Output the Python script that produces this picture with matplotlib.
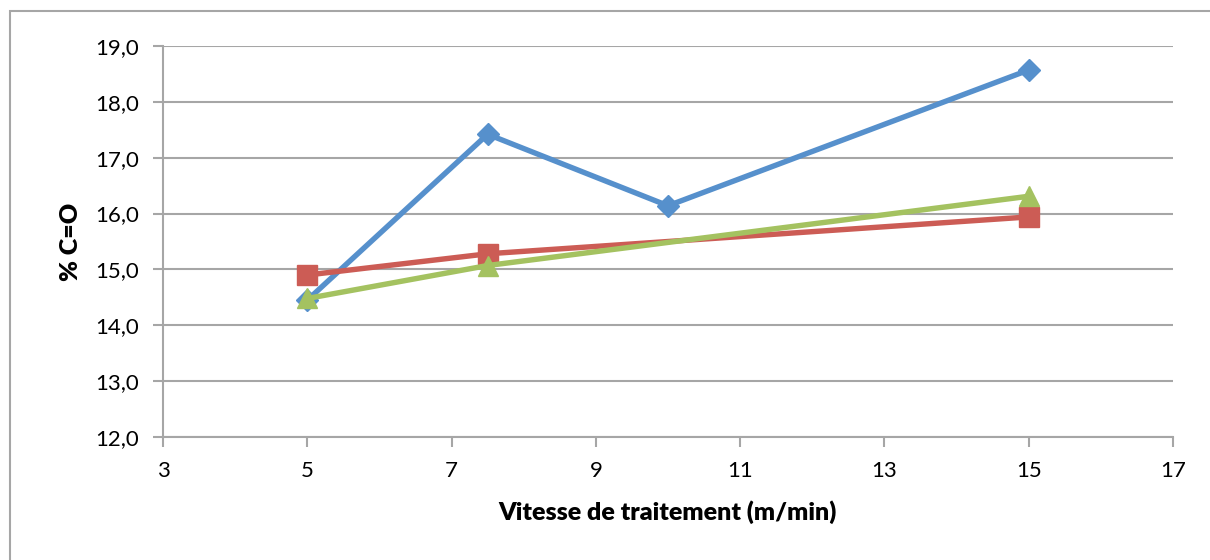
import matplotlib.pyplot as plt
from matplotlib.patches import Rectangle
from matplotlib.ticker import FuncFormatter

vitesse_bleu = [5, 7.5, 10, 15]
co_bleu = [14.45, 17.42, 16.14, 18.57]
vitesse_rouge = [5, 7.5, 15]
co_rouge = [14.90, 15.28, 15.94]
vitesse_vert = [5, 7.5, 15]
co_vert = [14.48, 15.07, 16.31]

plt.rcParams['font.family'] = ['Lato', 'DejaVu Sans']
grey = '#a6a6a6'

fig = plt.figure(figsize=(12.1, 5.6), dpi=100)
fig.patches.append(Rectangle((10 / 1210, -0.1), 1.2, 1 - 11 / 560 + 0.1,
                             transform=fig.transFigure, fill=False,
                             edgecolor=grey, linewidth=1.5))
ax = fig.add_axes([163 / 1210, 1 - 437 / 560, (1173 - 163) / 1210, (437 - 46) / 560])

ax.plot(vitesse_bleu, co_bleu, color='#5690cc', linewidth=3.9, marker='D', markersize=11, zorder=3)
ax.plot(vitesse_rouge, co_rouge, color='#cc5c55', linewidth=3.9, marker='s', markersize=14, zorder=4)
ax.plot(vitesse_vert, co_vert, color='#a4c260', linewidth=3.9, marker='^', markersize=15, zorder=5)

ax.set_xlim(3, 17)
ax.set_ylim(12, 19)
ax.set_xticks(range(3, 18, 2))
ax.set_yticks(range(12, 20))
ax.yaxis.set_major_formatter(FuncFormatter(lambda v, p: f'{v:.1f}'.replace('.', ',')))
ax.grid(axis='y', color=grey, linewidth=1.5)
ax.set_axisbelow(True)
for s in ['top', 'right']:
    ax.spines[s].set_visible(False)
for s in ['left', 'bottom']:
    ax.spines[s].set_color(grey)
    ax.spines[s].set_linewidth(1.5)
ax.tick_params(colors=grey, width=1.5, length=7, labelsize=16, labelcolor='black', pad=10)

ax.set_xlabel('Vitesse de traitement (m/min)', fontsize=18, fontweight='heavy', labelpad=14)
ax.set_ylabel('% C=O', fontsize=18, fontweight='heavy', labelpad=10)

fig.savefig('out.png', dpi=100)
